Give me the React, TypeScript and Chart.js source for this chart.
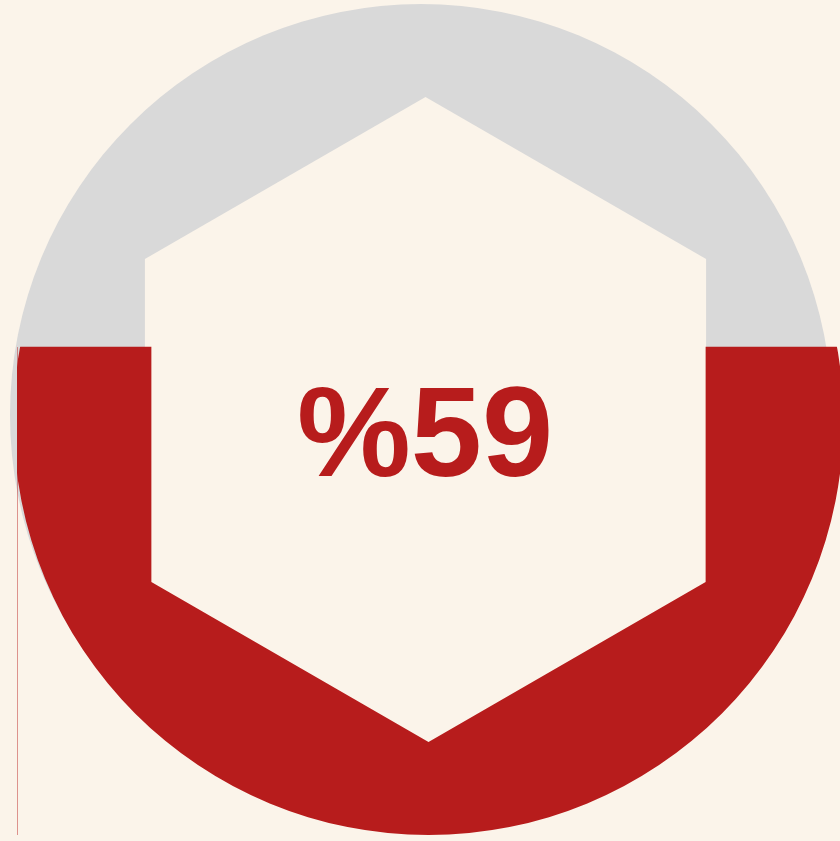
import { useEffect, useRef } from 'react';
import { Chart, registerables } from 'chart.js';

Chart.register(...registerables);

// ---- data ----
const categories = ['Tamamlanan'];
const values = [59];
const axisMin = 0;
const axisMax = 100;

// ---- styles ----
const BG = '#FBF4EA';
const GRAY = '#D9D9D9';
const RED = '#B71C1C';

function hexPath(ctx: CanvasRenderingContext2D, cx: number, cy: number, R: number) {
  for (let i = 0; i < 6; i++) {
    const ang = (-90 + 60 * i) * Math.PI / 180;
    const x = cx + R * Math.cos(ang);
    const y = cy + R * Math.sin(ang);
    if (i === 0) ctx.moveTo(x, y); else ctx.lineTo(x, y);
  }
  ctx.closePath();
}

const gaugePlugin = {
  id: 'gaugePlugin',
  beforeDraw(chart: any) {
    const { ctx, width, height } = chart;
    ctx.save();
    ctx.fillStyle = BG;
    ctx.fillRect(0, 0, width, height);
    ctx.restore();
  },
  beforeDatasetsDraw(chart: any) {
    const { ctx, chartArea: a } = chart;
    // gray background disc with hexagonal hole
    ctx.save();
    ctx.beginPath();
    ctx.arc(a.left + 404, a.top + 407, 411, 0, Math.PI * 2);
    ctx.fillStyle = GRAY;
    ctx.fill();
    ctx.beginPath();
    hexPath(ctx, a.left + 408.5, a.top + 413, 324);
    ctx.fillStyle = BG;
    ctx.fill();
    ctx.restore();
    // clip the red bar to a disc minus a hexagon
    ctx.save();
    ctx.beginPath();
    const rcx = (a.left + a.right) / 2;
    const rcy = a.bottom - 415;
    ctx.arc(rcx, rcy, 415, 0, Math.PI * 2);
    hexPath(ctx, rcx, rcy + 2, 320);
    ctx.clip('evenodd');
  },
  afterDatasetsDraw(chart: any) {
    const { ctx } = chart;
    ctx.restore();
    const bar = chart.getDatasetMeta(0).data[0];
    if (bar) {
      const props = bar.getProps(['x', 'y', 'base', 'width'], true);
      const lx = Math.round(props.x - props.width / 2) + 0.5;
      ctx.save();
      ctx.strokeStyle = 'rgba(183,28,28,0.45)';
      ctx.lineWidth = 1;
      ctx.beginPath();
      ctx.moveTo(lx, props.y);
      ctx.lineTo(lx, props.base);
      ctx.stroke();
      ctx.restore();
    }
  },
  afterDraw(chart: any) {
    const { ctx } = chart;
    ctx.save();
    ctx.fillStyle = RED;
    ctx.font = 'bold 128px "Liberation Sans", Arial, sans-serif';
    ctx.textAlign = 'center';
    ctx.textBaseline = 'alphabetic';
    ctx.fillText('%' + values[0], 425, 476);
    ctx.restore();
  },
};

export default function App() {
  const ref = useRef<HTMLCanvasElement | null>(null);
  useEffect(() => {
    document.body.style.margin = '0';
    document.body.style.background = BG;
    const canvas = ref.current;
    if (!canvas) return;
    const chart = new Chart(canvas, {
      type: 'bar',
      data: {
        labels: categories,
        datasets: [
          {
            data: values,
            backgroundColor: RED,
            borderWidth: 0,
            barPercentage: 1,
            categoryPercentage: 1,
          },
        ],
      },
      options: {
        responsive: false,
        animation: false,
        devicePixelRatio: 1,
        layout: { padding: { left: 17, top: 8, right: 0, bottom: 6 } },
        plugins: { legend: { display: false }, tooltip: { enabled: false } },
        scales: {
          x: { display: false },
          y: { display: false, min: axisMin, max: axisMax },
        },
      },
      plugins: [gaugePlugin],
    });
    return () => chart.destroy();
  }, []);
  return <canvas ref={ref} width={840} height={841} style={{ display: 'block' }} />;
}
